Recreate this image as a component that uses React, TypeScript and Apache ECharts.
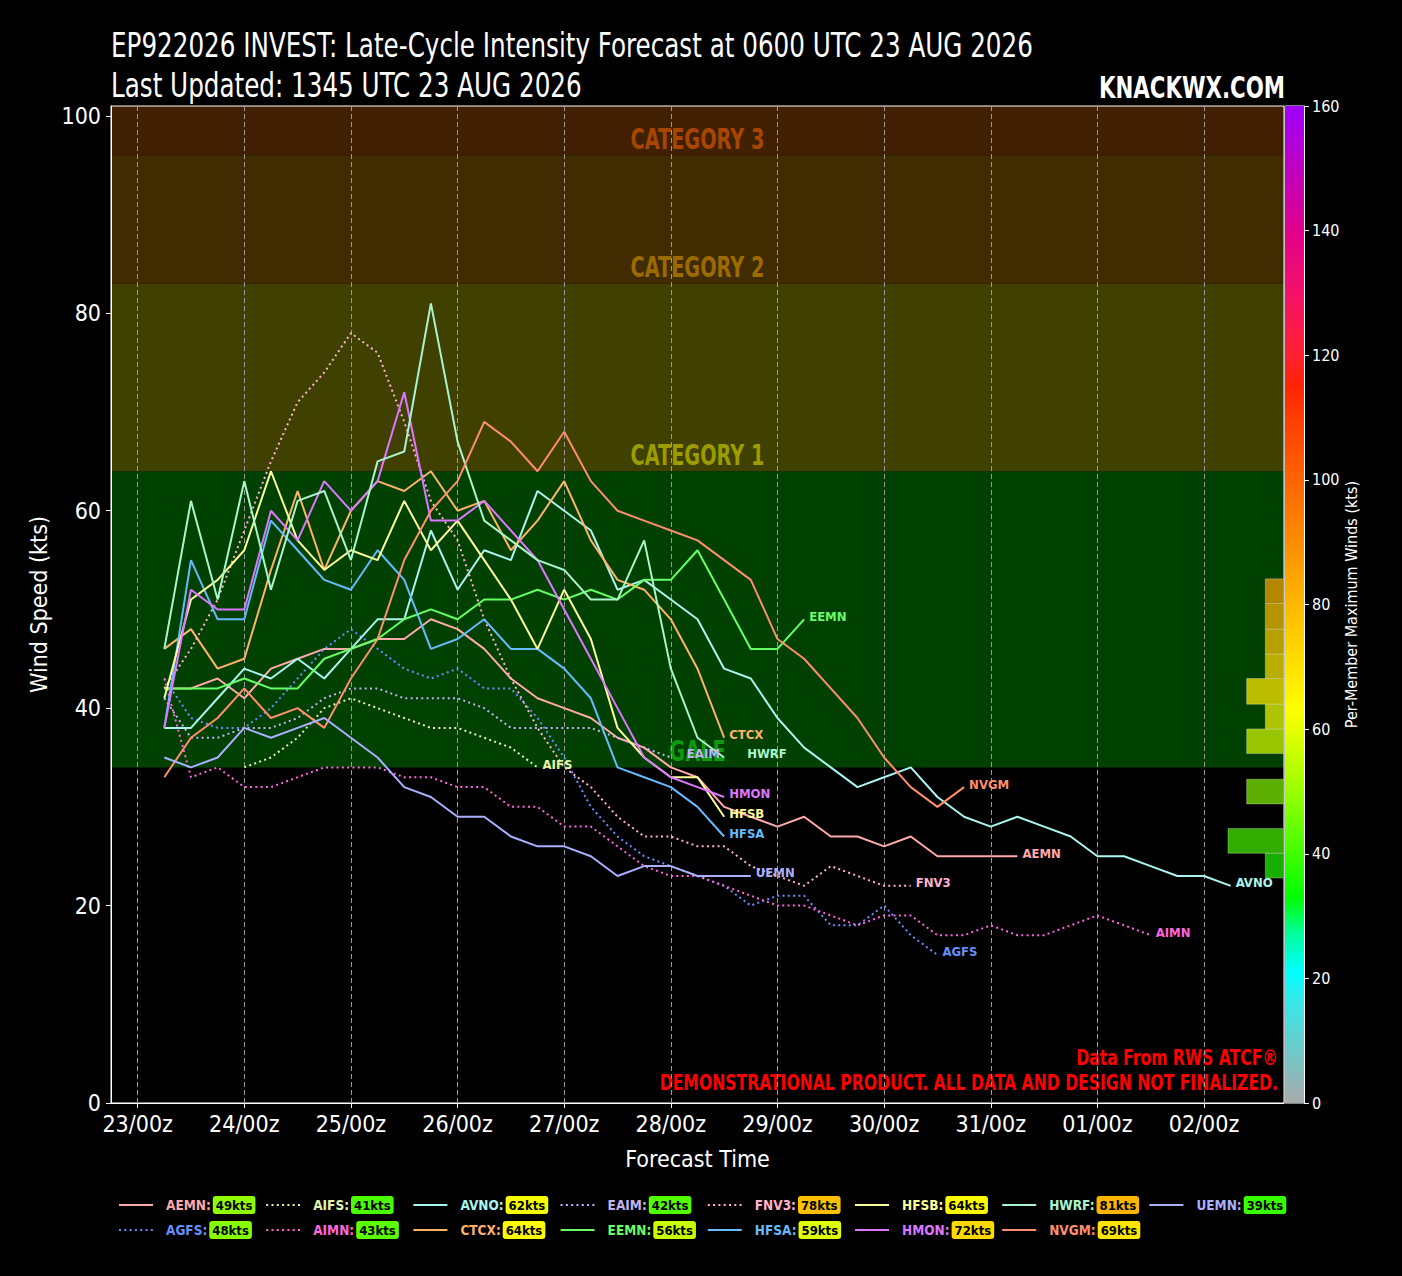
import React, { useEffect, useRef } from "react";
import * as echarts from "echarts";

const FF = '"Liberation Sans Narrow", "DejaVu Sans Condensed", "Open Sans", sans-serif';

// ---------------- data ----------------
const DAY_HOURS = [0, 24, 48, 72, 96, 120, 144, 168, 192, 216, 240];
const DAY_LABELS = ["23/00z", "24/00z", "25/00z", "26/00z", "27/00z", "28/00z", "29/00z", "30/00z", "31/00z", "01/00z", "02/00z"];
const WIND_TICKS = [0, 20, 40, 60, 80, 100];
const STEP_HOURS = 6;

// forecast wind speeds (kts), every 6 h from the member's start hour (hours after 23/00z)
const AEMN = [42, 42, 43, 41, 44, 45, 46, 46, 47, 47, 49, 48, 46, 43, 41, 40, 39, 37, 36, 34, 33, 30, 29, 28, 29, 27, 27, 26, 27, 25, 25, 25, 25];
const AGFS = [43, 39, 38, 38, 40, 43, 46, 48, 46, 44, 43, 44, 42, 42, 39, 35, 30, 27, 25, 24, 23, 22, 20, 21, 21, 18, 18, 20, 17, 15];
const AIFS = [34, 35, 37, 40, 41, 40, 39, 38, 38, 37, 36, 34];
const AIMN = [43, 33, 34, 32, 32, 33, 34, 34, 34, 33, 33, 32, 32, 30, 30, 28, 28, 26, 24, 23, 23, 22, 21, 20, 20, 19, 18, 19, 19, 17, 17, 18, 17, 17, 18, 19, 18, 17];
const AVNO = [38, 38, 41, 44, 43, 45, 43, 46, 49, 49, 58, 52, 56, 55, 62, 60, 58, 52, 53, 51, 49, 44, 43, 39, 36, 34, 32, 33, 34, 31, 29, 28, 29, 28, 27, 25, 25, 24, 23, 23, 22];
const CTCX = [46, 48, 44, 45, 54, 62, 54, 60, 63, 62, 64, 60, 61, 56, 59, 63, 57, 53, 52, 49, 44, 37];
const EAIM = [41, 37, 37, 38, 38, 39, 41, 42, 42, 41, 41, 41, 40, 38, 38, 38, 38, 37, 36, 35];
const EEMN = [42, 42, 42, 43, 42, 42, 45, 46, 47, 49, 50, 49, 51, 51, 52, 51, 52, 51, 53, 53, 56, 51, 46, 46, 49];
const FNV3 = [42, 46, 51, 58, 65, 71, 74, 78, 76, 69, 61, 57, 49, 43, 38, 34, 32, 29, 27, 27, 26, 26, 24, 23, 22, 24, 23, 22, 22];
const HFSA = [38, 55, 49, 49, 59, 56, 53, 52, 56, 53, 46, 47, 49, 46, 46, 44, 41, 34, 33, 32, 30, 27];
const HFSB = [41, 51, 53, 56, 64, 57, 54, 56, 55, 61, 56, 59, 55, 51, 46, 52, 47, 38, 35, 33, 33, 29];
const HMON = [38, 52, 50, 50, 60, 57, 63, 60, 63, 72, 59, 59, 61, 58, 55, 50, 45, 40, 35, 33, 32, 31];
const HWRF = [46, 61, 51, 63, 52, 61, 62, 55, 65, 66, 81, 67, 59, 57, 55, 54, 51, 51, 57, 44, 37, 35];
const NVGM = [33, 37, 39, 42, 39, 40, 38, 43, 47, 55, 60, 63, 69, 67, 64, 68, 63, 60, 59, 58, 57, 55, 53, 47, 45, 42, 39, 35, 32, 30, 32];
const UEMN = [35, 34, 35, 38, 37, 38, 39, 37, 35, 32, 31, 29, 29, 27, 26, 26, 25, 23, 24, 24, 23, 23, 23];

const MEMBER_NAMES = ["AEMN", "AGFS", "AIFS", "AIMN", "AVNO", "CTCX", "EAIM", "EEMN", "FNV3", "HFSA", "HFSB", "HMON", "HWRF", "NVGM", "UEMN"];
const MEMBER_VALUES = [AEMN, AGFS, AIFS, AIMN, AVNO, CTCX, EAIM, EEMN, FNV3, HFSA, HFSB, HMON, HWRF, NVGM, UEMN];
const MEMBER_START = [6, 6, 24, 6, 6, 6, 6, 6, 6, 6, 6, 6, 6, 6, 6];

// intensity bands (kts)
const BAND_NAMES = ["GALE", "CATEGORY 1", "CATEGORY 2", "CATEGORY 3"];
const BAND_LOW = [34, 64, 83, 96];
const BAND_HIGH = [64, 83, 96, 113];

// histogram at right edge: bin edges (kts) and member counts
const HIST_EDGES = [22.8, 25.3, 27.8, 30.3, 32.8, 35.4, 37.9, 40.4, 43.0, 45.5, 48.0, 50.6, 53.1];
const HIST_COUNTS = [1, 3, 0, 2, 0, 2, 1, 2, 1, 1, 1, 1];

// colour bar
const CBAR_MIN = 0;
const CBAR_MAX = 160;
const CBAR_STEP = 20;

// texts
const TITLE_1 = "EP922026 INVEST: Late-Cycle Intensity Forecast at 0600 UTC 23 AUG 2026";
const TITLE_2 = "Last Updated: 1345 UTC 23 AUG 2026";
const BRAND = "KNACKWX.COM";
const NOTE_1 = "Data From RWS ATCF®";
const NOTE_2 = "DEMONSTRATIONAL PRODUCT. ALL DATA AND DESIGN NOT FINALIZED.";

// ---------------- styles ----------------
const MEMBER_COLORS = ["#ffaaaa", "#6690ff", "#e6f5a8", "#ff66dd", "#aaf5f0", "#ffb366", "#c0b4f5", "#66ff66", "#ffb3cc", "#66bbff", "#ffff99", "#dd77ff", "#aaf5cc", "#ff8f6b", "#aab0ff"];
const MEMBER_DOTTED = [false, true, true, true, false, false, true, false, true, false, false, false, false, false, false];
const LABEL_OFFSETS: Record<string, number[]> = { HWRF: [18, -4], EAIM: [11, -4] };
const BAND_FILL = ["#004000", "#404000", "#402c00", "#402000"];
const BAND_TEXT = ["#109a10", "#9c9c00", "#9c6a00", "#a84600"];
const HIST_FILL = ["#18b000", "#30ad00", "#000000", "#5cae00", "#000000", "#99c400", "#afc400", "#bdbd00", "#b8ae00", "#b6a000", "#b59400", "#b38700"];
const CMAP_STOPS: [number, string][] = [
  [0, "#aaaaaa"], [8, "#70c8c8"], [16, "#3ae6e6"], [21, "#00ffff"], [27, "#00ffa0"], [33, "#00ff00"],
  [40, "#40ff00"], [50, "#98ff00"], [57, "#d0ff00"], [63, "#ffff00"], [72, "#ffd800"], [81, "#ffb400"],
  [90, "#ff8c00"], [100, "#ff6400"], [110, "#ff3c00"], [115, "#ff2400"], [120, "#ff2030"], [130, "#f5106a"],
  [140, "#e0008c"], [150, "#c000c0"], [160, "#a000ff"],
];

function hexToRgb(h: string) {
  return [parseInt(h.slice(1, 3), 16), parseInt(h.slice(3, 5), 16), parseInt(h.slice(5, 7), 16)];
}
function cmap(v: number) {
  for (let i = 0; i < CMAP_STOPS.length - 1; i++) {
    const [v0, c0] = CMAP_STOPS[i];
    const [v1, c1] = CMAP_STOPS[i + 1];
    if (v <= v1) {
      const t = Math.max(0, (v - v0) / (v1 - v0));
      const a = hexToRgb(c0), b = hexToRgb(c1);
      const m = a.map((x, k) => Math.round(x + (b[k] - x) * t));
      return `rgb(${m[0]},${m[1]},${m[2]})`;
    }
  }
  return CMAP_STOPS[CMAP_STOPS.length - 1][1];
}

function buildOption() {
  const white = "#ffffff";
  const series: any[] = [];

  series.push({
    type: "custom",
    name: "bands",
    xAxisIndex: 0,
    yAxisIndex: 0,
    z: -1,
    silent: true,
    data: BAND_LOW.map((lo, i) => [lo, BAND_HIGH[i], i]),
    renderItem: (params: any, api: any) => {
      const cs = params.coordSys;
      const lo = api.value(0), hi = api.value(1), i = api.value(2);
      const yTop = Math.max(api.coord([0, hi])[1], cs.y);
      const yBot = api.coord([0, lo])[1];
      return {
        type: "group",
        children: [
          { type: "rect", shape: { x: cs.x, y: yTop, width: cs.width, height: yBot - yTop }, style: { fill: BAND_FILL[i] } },
          {
            type: "text", x: cs.x + cs.width / 2, y: yBot - 2, scaleX: 0.74,
            style: { text: BAND_NAMES[i], fill: BAND_TEXT[i], fontSize: 29, fontWeight: "bold", fontFamily: FF, align: "center", verticalAlign: "bottom" },
          },
        ],
      };
    },
  });

  MEMBER_NAMES.forEach((name, i) => {
    const vals = MEMBER_VALUES[i];
    const color = MEMBER_COLORS[i];
    series.push({
      type: "line",
      name,
      xAxisIndex: 0,
      yAxisIndex: 0,
      z: 3,
      symbol: "none",
      silent: true,
      data: vals.map((v, k) => [MEMBER_START[i] + k * STEP_HOURS, v]),
      lineStyle: { color, width: 2, type: MEMBER_DOTTED[i] ? [2, 3.3] : "solid" },
      itemStyle: { color },
      endLabel: {
        show: true,
        formatter: () => name,
        color,
        fontFamily: FF,
        fontWeight: "bold",
        fontSize: 13,
        distance: 5,
        offset: LABEL_OFFSETS[name] || [0, -3],
      },
    });
  });

  series.push({
    type: "custom",
    name: "hist",
    xAxisIndex: 1,
    yAxisIndex: 1,
    z: 4,
    silent: true,
    data: HIST_COUNTS.map((c, i) => [c, HIST_EDGES[i], HIST_EDGES[i + 1], i]).filter((d) => d[0] > 0),
    renderItem: (params: any, api: any) => {
      const c = api.value(0), lo = api.value(1), hi = api.value(2), i = api.value(3);
      const p1 = api.coord([c, hi]);
      const p0 = api.coord([0, lo]);
      return {
        type: "rect",
        shape: { x: Math.min(p0[0], p1[0]), y: p1[1], width: Math.abs(p0[0] - p1[0]), height: p0[1] - p1[1] },
        style: { fill: HIST_FILL[i], stroke: "rgba(255,255,255,0.3)", lineWidth: 1 },
      };
    },
  });

  const gradStops = CMAP_STOPS.map(([v, c]) => ({ offset: (v - CBAR_MIN) / (CBAR_MAX - CBAR_MIN), color: c }));
  series.push({
    type: "bar",
    name: "cbar",
    xAxisIndex: 2,
    yAxisIndex: 2,
    data: [CBAR_MAX],
    barWidth: "100%",
    silent: true,
    itemStyle: { color: new echarts.graphic.LinearGradient(0, 1, 0, 0, gradStops) },
  });

  const legends = MEMBER_NAMES.map((name, i) => {
    const col = Math.floor(i / 2);
    const row = i % 2;
    const mx = Math.max(...MEMBER_VALUES[i]);
    return {
      data: [name],
      left: 118 + col * 147.2,
      top: 1196 + row * 25,
      padding: 0,
      itemWidth: 34,
      itemHeight: 12,
      selectedMode: false,
      itemStyle: { opacity: 0 },
      formatter: () => `{n|${name}:}{b|${mx}kts}`,
      textStyle: {
        rich: {
          n: { color: MEMBER_COLORS[i], fontFamily: FF, fontWeight: "bold", fontSize: 13.5, padding: [0, 2, 0, 8] },
          b: { color: "#000", backgroundColor: cmap(mx), borderRadius: 3, padding: [3, 3, 2, 3], fontFamily: FF, fontWeight: "bold", fontSize: 13 },
        },
      },
    };
  });

  const tickLabel = (v: number) => {
    const k = DAY_HOURS.indexOf(v);
    return k >= 0 ? DAY_LABELS[k] : "";
  };

  const txt = (text: string, x: number, y: number, sx: number, font: string, fill: string, align: string) => ({
    type: "text", x, y, scaleX: sx, silent: true,
    style: { text, font, fill, textAlign: align, textVerticalAlign: "middle" },
  });

  return {
    animation: false,
    backgroundColor: "#000000",
    textStyle: { fontFamily: FF },
    graphic: [
      txt(TITLE_1, 111, 46, 0.83, `normal 33px ${FF}`, white, "left"),
      txt(TITLE_2, 111, 86, 0.83, `normal 33px ${FF}`, white, "left"),
      txt(BRAND, 1285, 87, 0.765, `bold 31px ${FF}`, white, "right"),
      txt(NOTE_1, 1278, 1058, 0.79, `bold 22px ${FF}`, "#ff0000", "right"),
      txt(NOTE_2, 1278, 1083, 0.79, `bold 22px ${FF}`, "#ff0000", "right"),
    ],
    legend: legends,
    grid: [
      { left: 111, top: 106, width: 1173, height: 997, show: true, borderColor: white, borderWidth: 1, backgroundColor: "transparent" },
      { left: 1228, top: 106, width: 56, height: 997 },
      { left: 1285, top: 106, width: 19, height: 997, show: true, borderColor: white, borderWidth: 1, backgroundColor: "transparent" },
    ],
    xAxis: [
      {
        gridIndex: 0, type: "value", min: -6, max: 258,
        axisLine: { show: true, onZero: false, lineStyle: { color: white, width: 1 } },
        axisTick: { show: true, customValues: DAY_HOURS, length: 5, lineStyle: { color: white } },
        axisLabel: { customValues: DAY_HOURS, formatter: tickLabel, color: white, fontSize: 23, margin: 9, fontFamily: FF },
        splitLine: { show: true, lineStyle: { color: "#9a9a9a", type: [5, 3], width: 1 } },
        name: "Forecast Time", nameLocation: "middle", nameGap: 44,
        nameTextStyle: { color: white, fontSize: 23, fontFamily: FF },
      },
      { gridIndex: 1, type: "value", min: 0, max: 3, inverse: true, show: false },
      { gridIndex: 2, type: "category", data: ["cbar"], show: false },
    ],
    yAxis: [
      {
        gridIndex: 0, type: "value", min: 0, max: 101,
        axisLine: { show: true, onZero: false, lineStyle: { color: white, width: 1 } },
        axisTick: { show: true, customValues: WIND_TICKS, length: 5, lineStyle: { color: white } },
        axisLabel: { customValues: WIND_TICKS, color: white, fontSize: 23, margin: 10, fontFamily: FF },
        splitLine: { show: false },
        name: "Wind Speed (kts)", nameLocation: "middle", nameGap: 51,
        nameTextStyle: { color: white, fontSize: 23, fontFamily: FF },
      },
      { gridIndex: 1, type: "value", min: 0, max: 101, show: false },
      {
        gridIndex: 2, type: "value", min: CBAR_MIN, max: CBAR_MAX, interval: CBAR_STEP, position: "right",
        axisLine: { show: true, onZero: false, lineStyle: { color: white, width: 1 } },
        axisTick: { show: true, length: 5, lineStyle: { color: white } },
        axisLabel: { color: white, fontSize: 16, margin: 8, fontFamily: FF },
        splitLine: { show: false },
        name: "Per-Member Maximum Winds (kts)", nameLocation: "middle", nameGap: 39, nameRotate: 90,
        nameTextStyle: { color: white, fontSize: 16, fontFamily: FF },
      },
    ],
    series,
  };
}

export default function App() {
  const ref = useRef<HTMLDivElement>(null);
  useEffect(() => {
    if (!ref.current) return;
    const chart = echarts.init(ref.current, null, { renderer: "svg" });
    chart.setOption(buildOption() as any);
    return () => chart.dispose();
  }, []);
  return <div ref={ref} style={{ position: "absolute", left: 0, top: 0, width: 1402, height: 1276, background: "#000" }} />;
}
